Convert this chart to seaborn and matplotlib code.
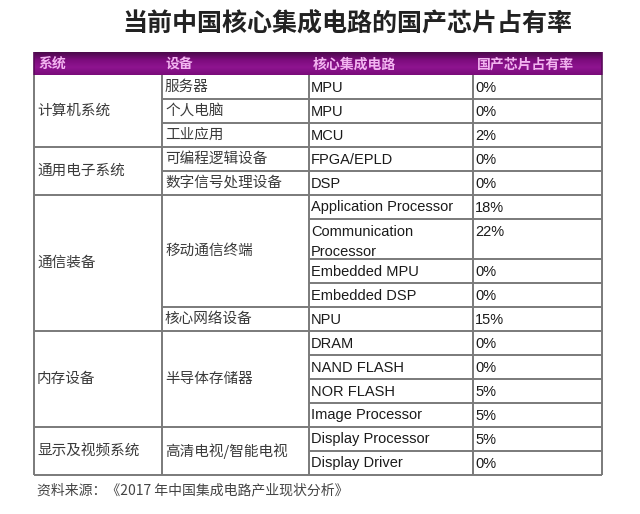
import numpy as np
import matplotlib
matplotlib.use("Agg")
import matplotlib.pyplot as plt
import seaborn as sns

# table content, one entry per chip row
systems = ["计算机系统", "计算机系统", "计算机系统",
           "通用电子系统", "通用电子系统",
           "通信装备", "通信装备", "通信装备", "通信装备", "通信装备",
           "内存设备", "内存设备", "内存设备", "内存设备",
           "显示及视频系统", "显示及视频系统"]
devices = ["服务器", "个人电脑", "工业应用",
           "可编程逻辑设备", "数字信号处理设备",
           "移动通信终端", "移动通信终端", "移动通信终端", "移动通信终端", "核心网络设备",
           "半导体存储器", "半导体存储器", "半导体存储器", "半导体存储器",
           "高清电视/智能电视", "高清电视/智能电视"]
chips = ["MPU", "MPU", "MCU", "FPGA/EPLD", "DSP",
         "Application Processor", "Communication\nProcessor", "Embedded MPU", "Embedded DSP", "NPU",
         "DRAM", "NAND FLASH", "NOR FLASH", "Image Processor",
         "Display Processor", "Display Driver"]
shares = [0, 0, 2, 0, 0, 18, 22, 0, 0, 15, 0, 0, 5, 5, 5, 0]
headers = ["系统", "设备", "核心集成电路", "国产芯片占有率"]
title = "当前中国核心集成电路的国产芯片占有率"
source = "资料来源：《2017 年中国集成电路产业现状分析》"

sns.set_theme(style="white")
cjk = ["Noto Sans CJK SC", "DejaVu Sans"]
latin = ["Liberation Sans", "DejaVu Sans"]
plt.rcParams["font.family"] = cjk

fig = plt.figure(figsize=(6.4, 5.14), dpi=100)
ax = fig.add_axes([0, 0, 1, 1])
ax.set_xlim(0, 640)
ax.set_ylim(514, 0)
ax.axis("off")

col_x = [34, 162, 309, 473, 602]
head_top, head_bot = 52, 75
row_h, extra = 24, 16

# row edges from number of text lines
heights = [row_h + extra * c.count("\n") for c in chips]
edges = np.concatenate([[head_bot], head_bot + np.cumsum(heights)])
bottom = edges[-1]

# header band with a soft vertical gradient
grad = np.linspace(0, 1, 50)
cmap = matplotlib.colors.LinearSegmentedColormap.from_list(
    "hdr", ["#4a0a4a", "#7c0c7c", "#8e1490", "#7a0c7a"])
ax.imshow(grad[:, None], cmap=cmap, aspect="auto",
          extent=[col_x[0], col_x[-1], head_bot, head_top], zorder=1)
for x, h in zip(col_x[:-1], headers):
    ax.text(x + 4, (head_top + head_bot) / 2 + 1, h, color="#f2b4f0",
            fontsize=10, fontweight="bold", va="center", ha="left", zorder=3)

line_kw = dict(color="#7a7a7a", linewidth=1.4, zorder=2)
body_kw = dict(color="#3a3a3a", fontsize=10.5, va="center", ha="left", zorder=3)
latin_kw = dict(color="#1a1a1a", family=latin, fontsize=10.5, va="center", ha="left", zorder=3)


def spans(labels):
    out = []
    start = 0
    for i in range(1, len(labels) + 1):
        if i == len(labels) or labels[i] != labels[start]:
            out.append((labels[start], start, i))
            start = i
    return out


# system column
for lab, s, e in spans(systems):
    ax.hlines(edges[e], col_x[0], col_x[1], **line_kw)
    ax.text(col_x[0] + 3, (edges[s] + edges[e]) / 2, lab, **body_kw)

# device column
for lab, s, e in spans(devices):
    ax.hlines(edges[e], col_x[1], col_x[2], **line_kw)
    ax.text(col_x[1] + 3, (edges[s] + edges[e]) / 2, lab, **body_kw)

# chip and share columns, multi-line names stack downward from the top line
for i, (c, v) in enumerate(zip(chips, shares)):
    ax.hlines(edges[i + 1], col_x[2], col_x[4], **line_kw)
    for k, part in enumerate(c.split("\n")):
        ax.text(col_x[2] + 2, edges[i] + 12.5 + 20 * k, part, **latin_kw)
    ax.text(col_x[3] + 2, edges[i] + 12.5, f"{v}%", **latin_kw)

ax.vlines(col_x, head_bot, bottom, **line_kw)
ax.vlines([col_x[0], col_x[-1]], head_top, head_bot, color="#5a0a5a", linewidth=1.2, zorder=2)

ax.text(347, 24, title, color="#222222", fontsize=18, fontweight="bold",
        ha="center", va="center")
ax.text(col_x[0] + 3, 490, source, color="#444444", fontsize=10,
        ha="left", va="center")

fig.savefig("out.png", dpi=100)
